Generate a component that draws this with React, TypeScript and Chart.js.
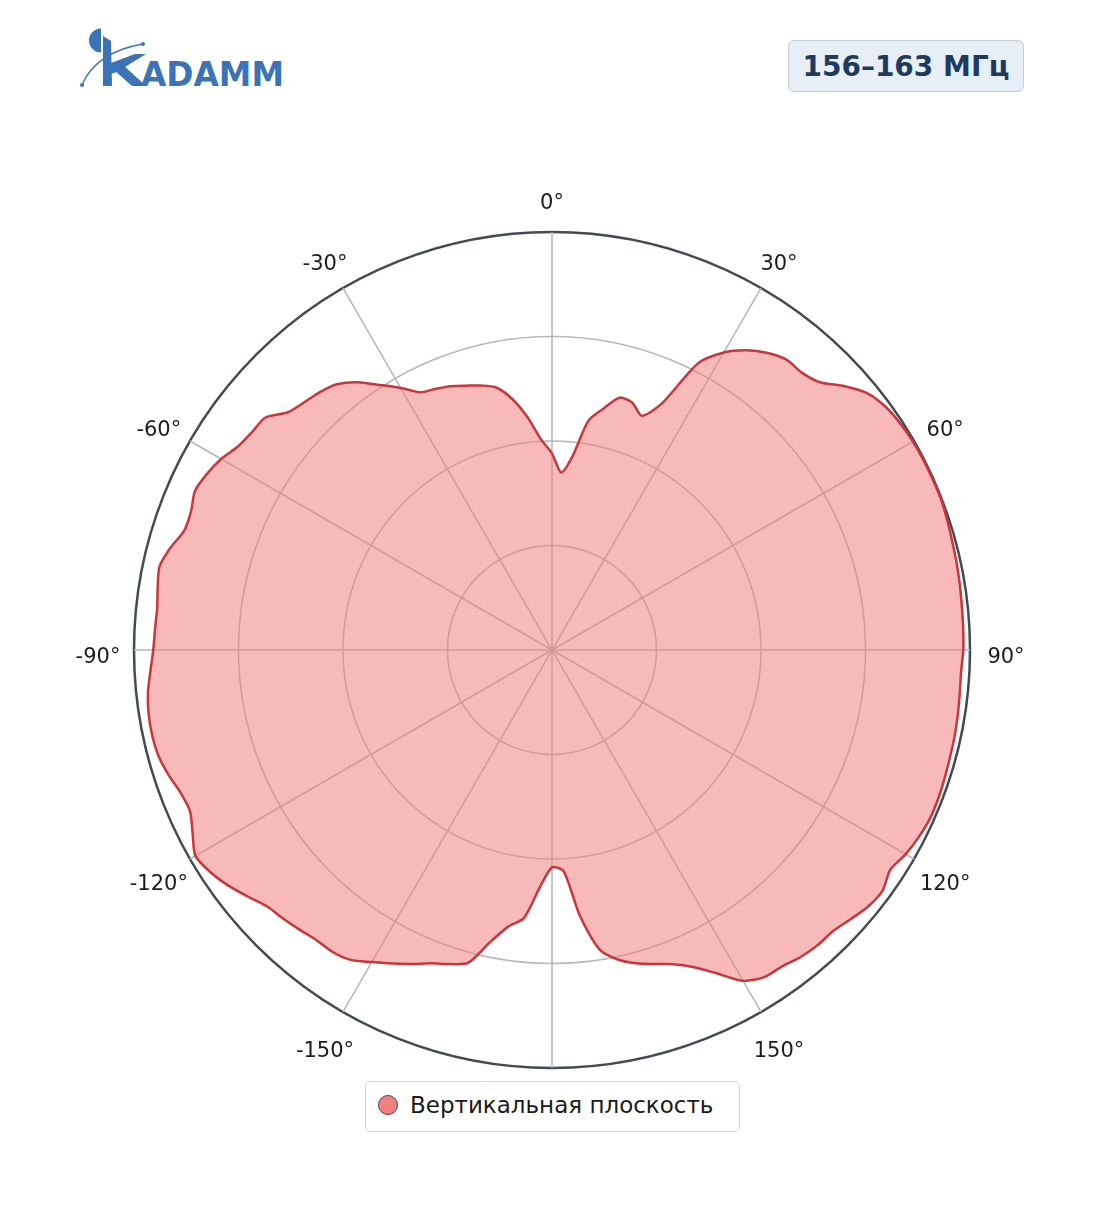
import React, { useEffect, useRef } from "react";
import { Chart, registerables } from "chart.js";

Chart.register(...registerables);

// Angle step of the measured pattern, degrees (0° = top, clockwise)
const STEP_DEG = 3;

// Normalised vertical-plane pattern, per quadrant (3° steps)
const Q1_0_87 = [
  0.47, 0.425, 0.465, 0.555, 0.59, 0.625, 0.622, 0.6, 0.645, 0.77,
  0.822, 0.855, 0.878, 0.893, 0.893, 0.906, 0.943, 0.974, 0.988, 0.994,
  0.997, 0.998, 0.998, 0.998, 0.995, 0.992, 0.99, 0.988, 0.986, 0.985,
];
const Q2_90_177 = [
  0.984, 0.98, 0.981, 0.983, 0.985, 0.986, 0.988, 0.99, 0.99, 0.985,
  0.977, 0.965, 0.978, 0.974, 0.962, 0.951, 0.95, 0.945, 0.936, 0.933,
  0.914, 0.868, 0.83, 0.805, 0.79, 0.776, 0.757, 0.725, 0.64, 0.53,
];
const Q3_180_267 = [
  0.52, 0.57, 0.645, 0.67, 0.715, 0.775, 0.79, 0.803, 0.822, 0.842,
  0.862, 0.884, 0.893, 0.894, 0.901, 0.909, 0.917, 0.937, 0.958, 0.975,
  0.985, 0.965, 0.948, 0.952, 0.965, 0.975, 0.978, 0.977, 0.972, 0.962,
];
const Q4_270_357 = [
  0.954, 0.951, 0.95, 0.955, 0.96, 0.945, 0.925, 0.925, 0.935, 0.927,
  0.914, 0.895, 0.887, 0.883, 0.85, 0.838, 0.83, 0.818, 0.792, 0.756,
  0.724, 0.692, 0.684, 0.676, 0.665, 0.655, 0.642, 0.608, 0.56, 0.505,
];

const PATTERN = [...Q1_0_87, ...Q2_90_177, ...Q3_180_267, ...Q4_270_357];
const ANGLE_CATEGORIES = PATTERN.map((_, i) => i * STEP_DEG);

// Angular tick labels shown (180° is hidden behind the legend)
const TICK_DEGREES = [0, 30, 60, 90, 120, 150, -150, -120, -90, -60, -30];
const RADIAL_TICKS = [0.25, 0.5, 0.75, 1];

const SERIES_LABEL = "Вертикальная плоскость";
const TITLE_TEXT = "156–163 МГц";

const FONT = "'DejaVu Sans', 'Noto Sans', sans-serif";

const angleLabelPlugin = {
  id: "angleLabels",
  afterDraw(chart: any) {
    const scale = chart.scales.r;
    const ctx = chart.ctx;
    ctx.save();
    ctx.font = `21px ${FONT}`;
    ctx.fillStyle = "#1c1c1c";
    ctx.textAlign = "center";
    ctx.textBaseline = "middle";
    TICK_DEGREES.forEach((deg) => {
      const norm = ((deg % 360) + 360) % 360;
      const index = Math.round(norm / STEP_DEG);
      const text = `${deg}°`;
      const p = scale.getPointPosition(index, scale.drawingArea + 36);
      ctx.fillText(text, p.x, p.y + 8);
    });
    ctx.restore();
  },
};

function PolarChart() {
  const ref = useRef<HTMLCanvasElement | null>(null);
  useEffect(() => {
    if (!ref.current) return;
    const chart = new Chart(ref.current, {
      type: "radar",
      data: {
        labels: ANGLE_CATEGORIES,
        datasets: [
          {
            label: SERIES_LABEL,
            data: PATTERN,
            fill: true,
            backgroundColor: "rgba(240,128,128,0.55)",
            borderColor: "#c9363b",
            borderWidth: 2.5,
            pointRadius: 0,
            pointHoverRadius: 0,
            tension: 0.25,
          },
        ],
      },
      options: {
        responsive: false,
        animation: false,
        layout: { padding: { left: 134, right: 134, top: 82, bottom: 82 } },
        plugins: {
          legend: { display: false },
          tooltip: { enabled: false },
        },
        scales: {
          r: {
            min: 0,
            max: 1,
            ticks: { display: false, stepSize: 0.25 },
            afterBuildTicks: (s: any) => {
              s.ticks = [0, ...RADIAL_TICKS].map((v) => ({ value: v }));
            },
            pointLabels: { display: false },
            grid: {
              circular: true,
              color: (c: any) => (c.tick && c.tick.value === 1 ? "#434955" : "#b1b6c1"),
              lineWidth: (c: any) => (c.tick && c.tick.value === 1 ? 2.5 : 1.5),
            },
            angleLines: {
              display: true,
              color: "#b1b6c1",
              lineWidth: (c: any) =>
                (c.index * STEP_DEG) % 30 === 0 ? 1.5 : 0,
            },
          },
        },
      } as any,
      plugins: [angleLabelPlugin],
    });
    return () => chart.destroy();
  }, []);
  return (
    <canvas
      ref={ref}
      width={1104}
      height={1000}
      style={{ position: "absolute", left: 0, top: 150, width: 1104, height: 1000 }}
    />
  );
}

function Logo() {
  const blue = "#3a73b7";
  return (
    <svg
      width={230}
      height={80}
      viewBox="70 20 230 80"
      style={{ position: "absolute", left: 70, top: 20 }}
    >
      <path d="M101,28.5 A12,12 0 0,0 101,52.5 Z" fill={blue} />
      <path d="M103,36 L111,41 L112,86 L103,86 Z" fill={blue} />
      <path d="M111,63 L135,54 L146,54 L117,72 L111,74 Z" fill={blue} />
      <path d="M114,70 L123,65 L146,86 L132,86 Z" fill={blue} />
      <path d="M82,85 Q96,52 143,44" fill="none" stroke={blue} strokeWidth={1.4} />
      <circle cx={82} cy={85} r={2} fill={blue} />
      <circle cx={143} cy={44} r={2} fill={blue} />
      <text
        x={141}
        y={86}
        fontFamily={FONT}
        fontWeight="bold"
        fontSize={34}
        fill={blue}
        textLength={143}
        lengthAdjust="spacingAndGlyphs"
      >
        ADAMM
      </text>
    </svg>
  );
}

export default function App() {
  return (
    <div
      style={{
        position: "absolute",
        left: 0,
        top: 0,
        width: 1104,
        height: 1211,
        background: "#ffffff",
        fontFamily: FONT,
        overflow: "hidden",
      }}
    >
      <Logo />
      <div
        style={{
          position: "absolute",
          left: 788,
          top: 40,
          width: 236,
          height: 52,
          boxSizing: "border-box",
          background: "#e8eef6",
          border: "1.5px solid #c3cedd",
          borderRadius: 6,
          display: "flex",
          alignItems: "center",
          justifyContent: "center",
          fontWeight: "bold",
          fontSize: 28,
          color: "#1f3a5f",
          whiteSpace: "nowrap",
        }}
      >
        {TITLE_TEXT}
      </div>
      <PolarChart />
      <div
        style={{
          position: "absolute",
          left: 365,
          top: 1081,
          width: 375,
          height: 51,
          boxSizing: "border-box",
          background: "#ffffff",
          border: "1.5px solid #cfd6e2",
          borderRadius: 5,
          zIndex: 2,
        }}
      >
        <span
          style={{
            position: "absolute",
            left: 12,
            top: 13,
            width: 20,
            height: 20,
            boxSizing: "border-box",
            borderRadius: "50%",
            background: "#f08080",
            border: "1px solid #5b3b48",
          }}
        />
        <span
          style={{
            position: "absolute",
            left: 44,
            top: 8,
            fontSize: 23,
            color: "#1a1a1a",
            whiteSpace: "nowrap",
            lineHeight: "30px",
          }}
        >
          {SERIES_LABEL}
        </span>
      </div>
    </div>
  );
}
